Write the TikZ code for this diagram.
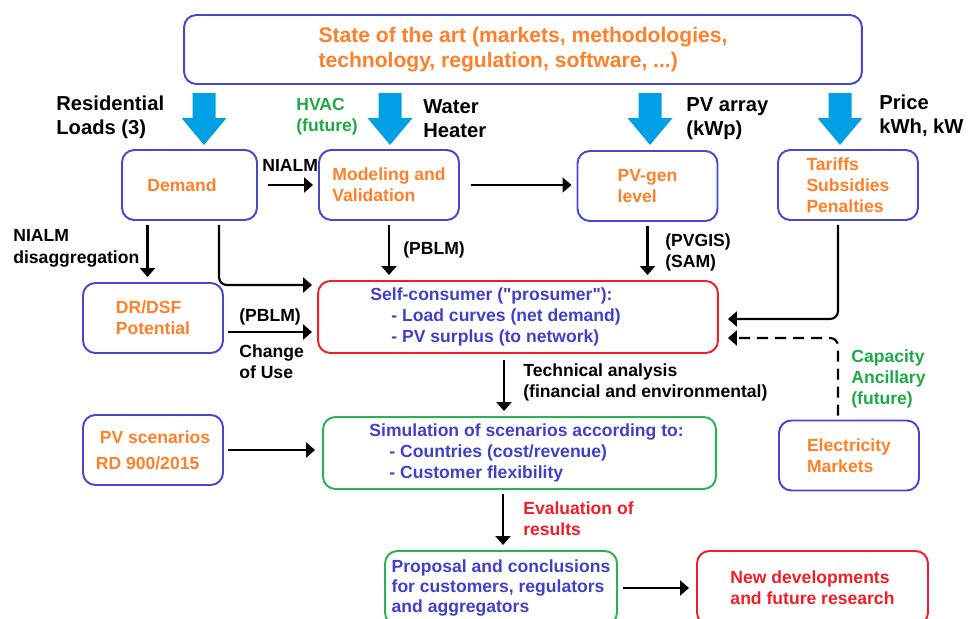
\documentclass[tikz,border=0pt]{standalone}
\usepackage{fontspec}
\setmainfont{Liberation Sans}
\usetikzlibrary{arrows.meta}

\definecolor{boxblue}{RGB}{70,70,210}
\definecolor{txtblue}{RGB}{64,64,200}
\definecolor{txtorange}{RGB}{255,128,40}
\definecolor{boxred}{RGB}{240,30,40}
\definecolor{boxgreen}{RGB}{40,180,80}
\definecolor{txtgreen}{RGB}{30,170,70}
\definecolor{fatblue}{RGB}{0,160,230}

\begin{document}
\begin{tikzpicture}[x=0.02cm, y=-0.02cm,
  every node/.style={font=\bfseries\fontsize{10}{12}\selectfont, align=left, inner sep=0pt},
  head/.style={font=\bfseries\fontsize{11.5}{13.6}\selectfont},
  box/.style={draw=#1, line width=1.1pt, rounded corners=7pt, text=txtorange,
              minimum width=2.8cm, minimum height=1.4cm},
  conn/.style={line width=1.2pt, -{Triangle[length=0.18cm, width=0.3cm]},
               shorten >=0.1cm, shorten <=0.08cm},
  back/.style={dash pattern=on 0.22cm off 0.14cm}]

\useasboundingbox (0,0) rectangle (968,619);
\clip (0,0) rectangle (968,619);

% big arrows from the top box
\foreach \x in {204,390,650,840}
  \fill[fatblue] (\x-11.5,93) -- (\x+11.5,93) -- (\x+11.5,118) -- (\x+22.5,118)
    -- (\x,145) -- (\x-22.5,118) -- (\x-11.5,118) -- cycle;

% boxes
\node[box=boxblue, minimum width=13.56cm, minimum height=1.38cm,
      font=\bfseries\fontsize{12}{14}\selectfont] (state) at (523,49.5)
      {State of the art (markets, methodologies,\\technology, regulation, software, ...)};

\node[box=boxblue, minimum width=2.7cm] (demand) at (189.5,185) {Demand\hspace*{0.3cm}};
\node[box=boxblue] (model)  at (389,185)   {Modeling and\\Validation};
\node[box=boxblue] (pvgen)  at (647.5,186) {PV-gen\\level};
\node[box=boxblue] (tariff) at (848,185)   {Tariffs\\Subsidies\\Penalties};
\node[box=boxblue] (drdsf)  at (153,318)   {DR/DSF\\Potential};

\node[box=boxred, minimum width=8cm, minimum height=1.44cm] (selfc) at (518,317) {};
\node[anchor=west, text=txtblue] (selfctxt) at ([xshift=1.06cm]selfc.west)
      {Self-consumer (\textquotedbl prosumer\textquotedbl):\\\hspace*{0.42cm}- Load curves (net demand)\\\hspace*{0.42cm}- PV surplus (to network)};

\node[box=boxblue] (pvscen) at (153,450) {\hspace*{0.08cm}PV scenarios\\[3pt]RD 900/2015};

\node[box=boxgreen, minimum width=7.86cm, minimum height=1.44cm] (simul) at (519.5,453) {};
\node[anchor=west, text=txtblue] (simultxt) at ([xshift=0.94cm]simul.west)
      {Simulation of scenarios according to:\\\hspace*{0.4cm}- Countries (cost/revenue)\\\hspace*{0.4cm}- Customer flexibility};

\node[box=boxblue] (elmkt) at (849,455.5) {Electricity\\Markets};

\node[box=boxgreen, minimum width=4.64cm, minimum height=1.48cm, text=txtblue,
      font=\bfseries\fontsize{10}{11.4}\selectfont] (propos) at (501,588)
      {Proposal and conclusions\\for customers, regulators\\and aggregators};
\node[box=boxred, minimum width=4.62cm, minimum height=1.48cm, text=boxred] (newdev) at (812.5,588)
      {New developments\\and future research};

% labels
\node[head, anchor=west] (resid) at (56,117)  {Residential\\Loads (3)};
\node[anchor=west, text=txtgreen] (hvac) at (296,117) {HVAC\\(future)};
\node[head, anchor=west] (water) at (423,119) {Water\\Heater};
\node[head, anchor=west] (pvarr) at (686,119) {PV array\\(kWp)};
\node[head, anchor=west] (price) at (879,116) {Price\\kWh, kW};

\node[anchor=west] (nialmA) at (262,165) {NIALM};
\node[anchor=west, font=\bfseries\fontsize{10}{12.5}\selectfont] (nialmB) at (13,248) {NIALM\\disaggregation};
\node[anchor=west] (pblmA)  at (403,250) {(PBLM)};
\node[anchor=west] (pvgis)  at (665,252) {(PVGIS)\\(SAM)};
\node[anchor=west] (pblmB)  at (239,317) {(PBLM)};
\node[anchor=west] (chuse)  at (239,362) {Change\\of Use};
\node[anchor=west] (techan) at (523,382) {Technical analysis\\(financial and environmental)};
\node[anchor=west, text=txtgreen] (capac) at (851,379) {Capacity\\Ancillary\\(future)};
\node[anchor=west, text=boxred] (evalr) at (523,519) {Evaluation of\\results};

% connectors
\draw[conn, shorten <=0.2cm] (demand.east) -- (model.west);
\draw[conn, shorten <=0.22cm] (model.east) -- (model.east -| pvgen.west);
\draw[conn] ([xshift=-0.84cm]demand.south) -- ([xshift=-0.84cm]demand.south |- drdsf.north);
\draw[conn, rounded corners=4.5pt] ([xshift=0.59cm]demand.south) |- ([yshift=0.64cm]selfc.west);
\draw[conn] (model.south) -- (model.south |- selfc.north);
\draw[conn] (pvgen.south) -- (pvgen.south |- selfc.north);
\draw[conn, shorten >=0.18cm, rounded corners=4.5pt] ([xshift=-0.2cm]tariff.south) |- ([yshift=-0.04cm]selfc.east);
\draw[conn, back, shorten >=0.18cm, rounded corners=4.5pt] ([xshift=-0.22cm]elmkt.north) |- ([yshift=-0.42cm]selfc.east);
\draw[conn] ([yshift=-0.28cm]drdsf.east) -- ([yshift=-0.28cm]drdsf.east -| selfc.west);
\draw[conn, shorten <=0.12cm] ([xshift=-0.28cm]selfc.south) -- ([xshift=-0.28cm]selfc.south |- simul.north);
\draw[conn, shorten >=0.14cm] (pvscen.east) -- (pvscen.east -| simul.west);
\draw[conn] ([xshift=-0.33cm]simul.south) -- ([xshift=-0.33cm]simul.south |- propos.north);
\draw[conn, shorten <=0.1cm, shorten >=0.14cm] (propos.east) -- (propos.east -| newdev.west);

\end{tikzpicture}
\end{document}
